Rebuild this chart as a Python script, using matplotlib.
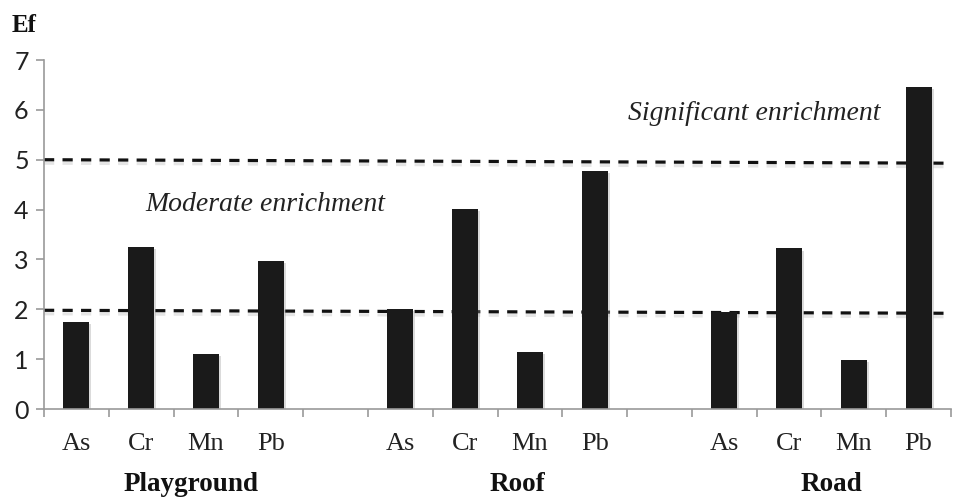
import matplotlib
matplotlib.use("Agg")
import matplotlib.pyplot as plt
import matplotlib.patheffects as pe
import numpy as np

# enrichment factors
elements = ["As", "Cr", "Mn", "Pb"]
sites = ["Playground", "Roof", "Road"]
playground = [1.75, 3.25, 1.10, 2.97]
roof = [2.00, 4.01, 1.15, 4.78]
road = [1.95, 3.22, 0.98, 6.46]

# threshold lines (value at left end, value at right end)
moderate_line = [1.98, 1.92]
significant_line = [5.00, 4.93]

yticks = [0, 1, 2, 3, 4, 5, 6, 7]

fig = plt.figure(figsize=(9.54, 4.98), dpi=100)
ax = fig.add_axes([0.0461, 0.1787, 0.9508, 0.7008])

serif = "Liberation Serif"
grey = "#9a9a9a"
bar_color = "#1a1a1a"

# one slot per element, with an empty slot between sites
positions = []
values = []
labels = []
for g, vals in enumerate([playground, roof, road]):
    for i, v in enumerate(vals):
        positions.append(g * 5 + i)
        values.append(v)
        labels.append(elements[i])

bar_shadow = [pe.SimplePatchShadow(offset=(1.5, -1.5), shadow_rgbFace="0.6", alpha=0.35), pe.Normal()]
bars = ax.bar(positions, values, width=0.4, color=bar_color, zorder=2)
for b in bars:
    b.set_path_effects(bar_shadow)

ax.set_xlim(-0.5, 13.5)
ax.set_ylim(0, 7)

line_shadow = [pe.SimpleLineShadow(offset=(0, -2.5), shadow_color="0.8", alpha=0.5), pe.Normal()]
for ln in [moderate_line, significant_line]:
    ax.plot([-0.5, 13.5], ln, color="#111111", lw=2.3, dashes=(3.2, 2.6),
            zorder=1, path_effects=line_shadow, clip_on=False)

# spines and ticks
for s in ["top", "right"]:
    ax.spines[s].set_visible(False)
ax.spines["left"].set_color(grey)
ax.spines["bottom"].set_color(grey)
ax.spines["left"].set_linewidth(1.2)
ax.spines["bottom"].set_linewidth(1.2)

ax.set_yticks(yticks)
ax.set_yticklabels([str(t) for t in yticks], fontfamily="Lato", fontsize=18, color="#222222")
ax.tick_params(axis="y", color=grey, length=6, width=1.2, pad=5)

ax.set_xticks(np.arange(-0.5, 14, 1.0))
ax.set_xticklabels([])
ax.tick_params(axis="x", which="major", color=grey, length=6, width=1.2)
ax.set_xticks(positions, minor=True)
ax.set_xticklabels(labels, minor=True, fontfamily=serif, fontsize=19, color="#222222")
ax.tick_params(axis="x", which="minor", length=0, pad=17)

# site names under the element labels
site_x = [1.77, 6.81, 11.66]
for name, x in zip(sites, site_x):
    ax.text(x, -1.64, name, ha="center", va="baseline", fontfamily=serif,
            fontweight="bold", fontsize=19.5, color="#111111", clip_on=False)

ax.text(2.91, 4.1, "Moderate enrichment", ha="center", va="center",
        fontfamily=serif, style="italic", fontsize=20, color="#222222")
ax.text(10.46, 5.93, "Significant enrichment", ha="center", va="center",
        fontfamily=serif, style="italic", fontsize=20, color="#222222")

fig.text(12 / 954, 1 - 25 / 498, "Ef", ha="left", va="center", fontfamily=serif,
         fontweight="bold", fontsize=18, color="#111111")

fig.savefig("out.png", dpi=100)
